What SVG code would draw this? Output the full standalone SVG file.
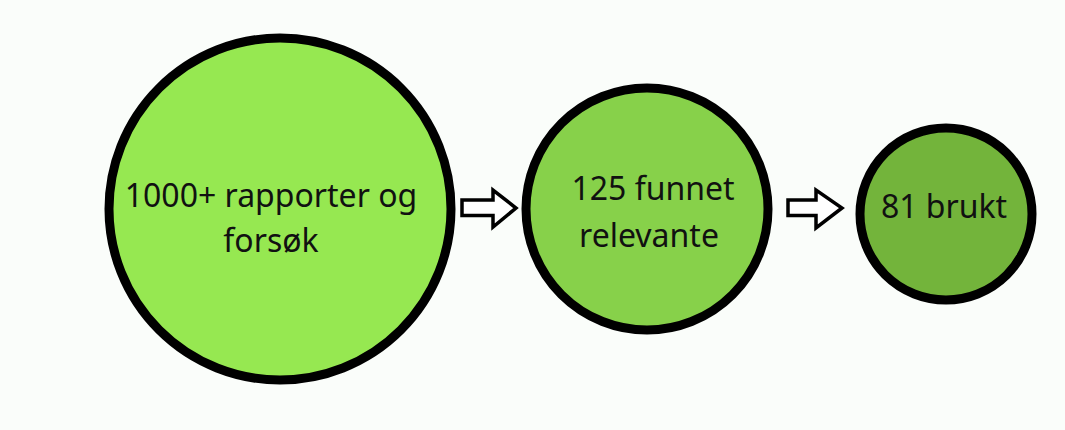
<svg xmlns="http://www.w3.org/2000/svg" width="1065" height="430" viewBox="0 0 1065 430">
<style>
.node circle{stroke:#000;stroke-width:9}
.node text{font-family:"Noto Sans","Open Sans",sans-serif;font-size:32px;fill:#111;text-anchor:middle}
.arrow{fill:#fff;stroke:#000;stroke-width:3.5;stroke-linejoin:miter}
</style>
<rect width="1065" height="430" fill="#FAFDFA"/>
<g id="node1" class="node">
<circle cx="280" cy="209" r="171" fill="#96E851"/>
<text x="271" y="207">1000+ rapporter og</text>
<text x="271" y="252">forsøk</text>
</g>
<g id="node2" class="node">
<circle cx="647" cy="209" r="121" fill="#87D14A"/>
<text x="653" y="200">125 funnet</text>
<text x="649" y="247">relevante</text>
</g>
<g id="node3" class="node">
<circle cx="946" cy="214" r="86" fill="#73B43B"/>
<text x="944" y="218">81 brukt</text>
</g>
<g id="connectors">
<path class="arrow" d="M462,200 H493 V190 L516,208 L493,227 V215.5 H462 Z"/>
<path class="arrow" d="M788,200 H816 V190 L842,208 L816,228 V215.5 H788 Z"/>
</g>
</svg>
